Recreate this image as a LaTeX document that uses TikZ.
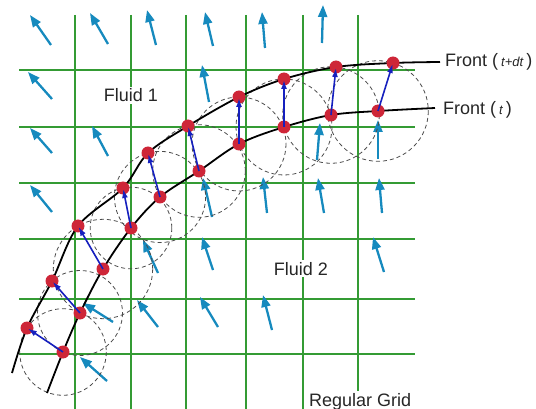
\documentclass[tikz,border=0pt]{standalone}
\usepackage{fontspec}
\setmainfont{Liberation Sans}
\usetikzlibrary{arrows.meta}
\definecolor{gridgreen}{RGB}{52,155,52}
\definecolor{velblue}{RGB}{22,138,190}
\definecolor{ptred}{RGB}{206,38,56}
\definecolor{moveblue}{RGB}{22,32,190}
\begin{document}
\begin{tikzpicture}[x=1pt,y=-1pt,font=\fontsize{18}{20}\selectfont,
 gridline/.style={draw=gridgreen,line width=1.1pt},
 velocity/.style={-{Triangle[length=12pt,width=9pt]},draw=velblue,fill=velblue,line width=2.3pt},
 frontline/.style={line width=1.8pt,line join=round},
 ring/.style={draw=black!70,line width=.8pt,dash pattern=on 4pt off 3pt},
 frontpt/.style={circle,fill=ptred,inner sep=0pt,minimum size=13pt},
 motion/.style={-{Latex[length=9pt,width=6pt]},draw=moveblue,line width=1.6pt,shorten >=1pt},
 label/.style={fill=white,inner sep=2pt,text=black!85}]
\useasboundingbox (0,0) rectangle (536,409);
% regular grid
\foreach \gx in {75,131,186,246,303,358} \draw[gridline] (\gx,15)--(\gx,409);
\foreach \gy in {70,127,183,239,299,354} \draw[gridline] (19,\gy)--(415,\gy);
\node[label,anchor=base] (fluidA) at (131,102) {Fluid 1};
\node[label,anchor=base] (fluidB) at (301,275) {Fluid 2};
\node[label,anchor=base west] (grid) at (307,406) {Regular Grid};
% velocity field
\foreach \tx/\ty/\hx/\hy in {51/45/30/15,108/44/90/13,156/45/147/10,213/46/205/12,265/48/262/12,322/43/323/5,
 52/99/28/72,209/102/202/65,
 52/153/30/128,108/156/92/126,317/160/320/123,378/159/378/120,
 52/212/30/185,212/217/203/178,267/213/263/177,324/213/318/178,382/213/379/178,
 158/273/143/240,213/270/202/237,384/272/373/237,
 113/322/83/303,158/327/137/300,218/327/200/297,272/330/263/295,
 107/381/80/357}
 \draw[velocity] (\tx,\ty)--(\hx,\hy);
% front points
\foreach \i/\ux/\uy/\lx/\ly in {1/27/328/63/352,2/52/281/80/313,3/78/226/103/269,4/123/188/131/228,
 5/148/153/160/197,6/188/126/199/171,7/239/97/239/144,8/284/79/284/127,9/336/67/331/115,10/393/63/378/111}{
 \coordinate (u\i) at (\ux,\uy);
 \coordinate (l\i) at (\lx,\ly);}
\coordinate (uA) at (12,373); \coordinate (uB) at (440,62);
\coordinate (lA) at (47,393); \coordinate (lB) at (435,108);
\foreach \i/\r in {1/43.3,2/42.5,3/49.7,4/40.8,5/45.6,6/46.3,7/47,8/48,9/48.3,10/50.3}
 \draw[ring] (l\i) circle (\r);
\draw[frontline] plot[smooth,tension=.55] coordinates {(uA) (u1) (u2) (u3) (u4) (u5) (u6) (u7) (u8) (u9) (u10) (uB)};
\draw[frontline] plot[smooth,tension=.55] coordinates {(lA) (l1) (l2) (l3) (l4) (l5) (l6) (l7) (l8) (l9) (l10) (lB)};
\foreach \i in {1,...,10}{
 \node[frontpt] (pu\i) at (u\i) {};
 \node[frontpt] (pl\i) at (l\i) {};}
\foreach \i in {1,...,10} \draw[motion] (pl\i.center)--(pu\i.center);
\node[anchor=base west,inner sep=0pt,text=black!85] (newfront) at (445,67) {Front (\,{\fontsize{13}{14}\selectfont\itshape t+dt}\,)};
\node[anchor=base west,inner sep=0pt,text=black!85] (oldfront) at (443,115) {Front (\,{\fontsize{13}{14}\selectfont\itshape t}\,)};
\end{tikzpicture}
\end{document}
